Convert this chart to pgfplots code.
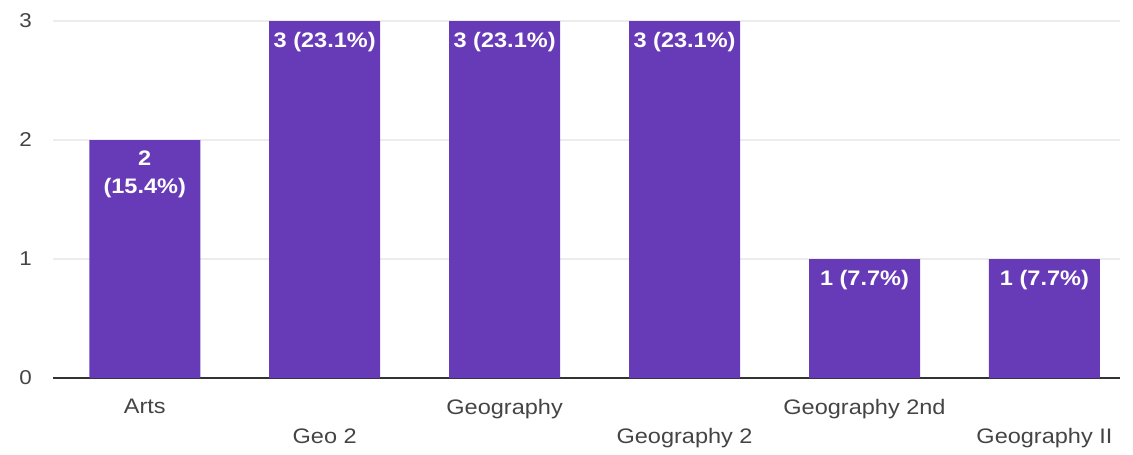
\documentclass[border=0pt]{standalone}
\usepackage{pgfplots}
\pgfplotsset{compat=1.18}
\usepackage{fontspec}
\setmainfont{Liberation Sans}[FakeStretch=1.12]
\definecolor{barpurple}{HTML}{673AB7}
\definecolor{gridgray}{HTML}{ECECEC}
\definecolor{txtgray}{HTML}{444444}
\definecolor{axisgray}{HTML}{333333}
\begin{document}
\begin{tikzpicture}
\path (-26.5pt,-37.5pt) rectangle (540pt,189pt);
\begin{axis}[
  scale only axis,
  width=533.5pt, height=178.5pt,
  xmin=-0.51, xmax=5.42, ymin=0, ymax=3,
  axis line style={draw=none},
  major tick length=0pt,
  tick style={draw=none},
  ytick={1,2,3},
  ymajorgrids,
  grid style={gridgray, line width=0.7pt},
  extra y ticks={0},
  extra y tick style={grid style={axisgray, line width=0.9pt}},
  yticklabel style={font=\fontsize{10}{12}\selectfont, text=txtgray, xshift=-7pt},
  /pgf/number format/assume math mode=true,
  xtick={0,1,2,3,4,5},
  xticklabels={Arts,{\vphantom{A}\\Geo 2},Geography,{\vphantom{A}\\Geography 2},Geography 2nd,{\vphantom{A}\\Geography II}},
  xticklabel style={align=center, font=\fontsize{10.5}{15}\selectfont, text=txtgray, yshift=-7pt},
  clip=false,
]
\addplot[ybar, bar width=55.5pt, fill=barpurple, draw=none,
  point meta=explicit symbolic,
  nodes near coords,
  nodes near coords align={below},
  every node near coord/.append style={text=white, align=center, font=\fontsize{10.5}{14}\selectfont\bfseries, yshift=-2pt}]
coordinates {
  (0,2) [{2\\(15.4\%)}]
  (1,3) [{3 (23.1\%)}]
  (2,3) [{3 (23.1\%)}]
  (3,3) [{3 (23.1\%)}]
  (4,1) [{1 (7.7\%)}]
  (5,1) [{1 (7.7\%)}]
};
\end{axis}
\end{tikzpicture}
\end{document}
